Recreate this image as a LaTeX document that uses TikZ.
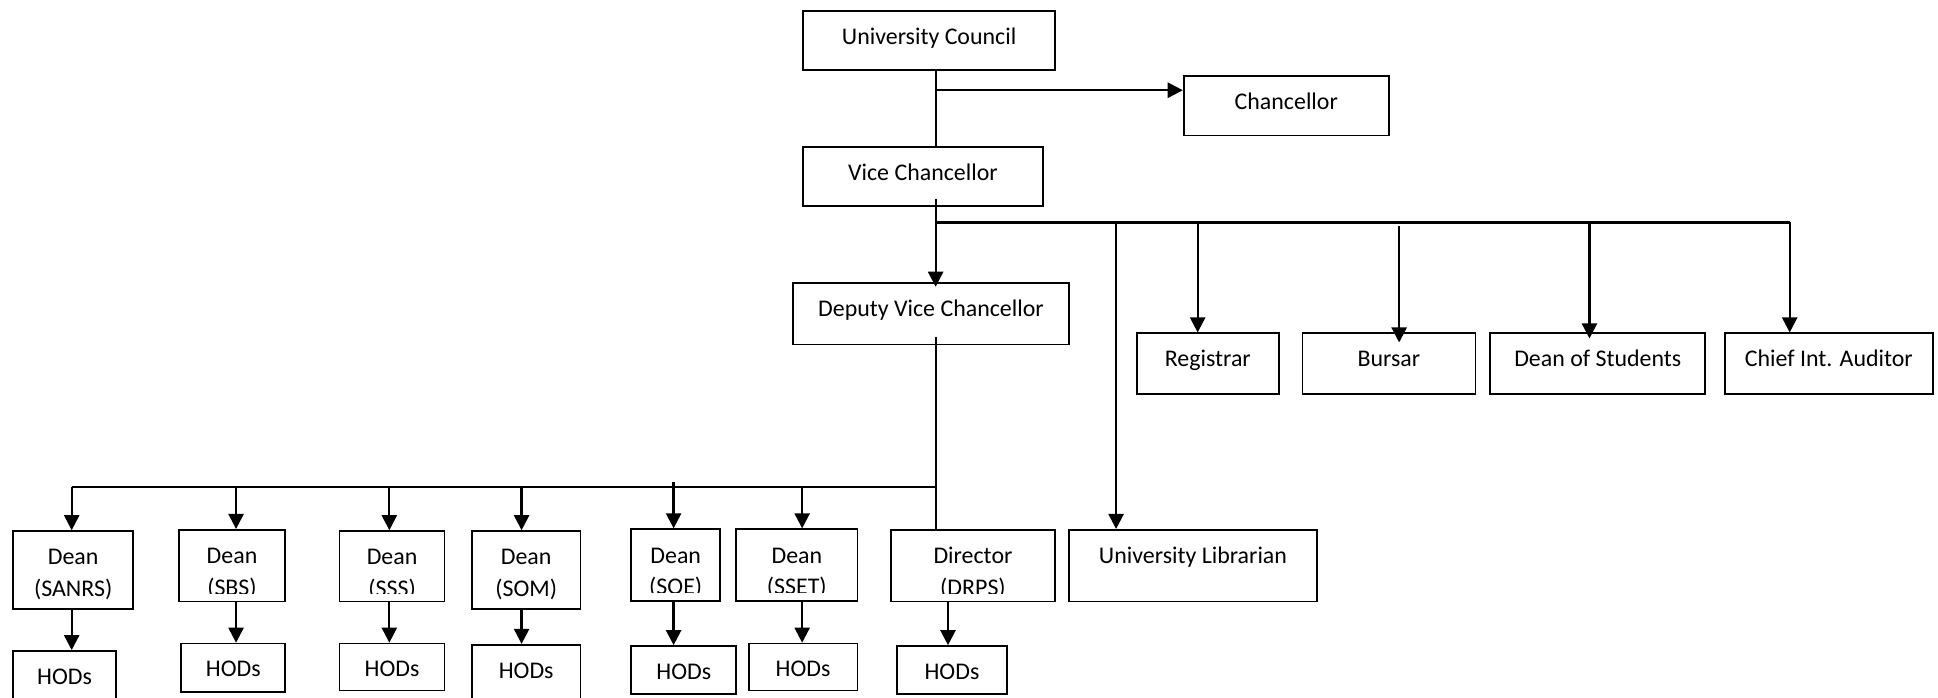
\documentclass[tikz,border=0pt]{standalone}
\usepackage{fontspec}
\setmainfont{Carlito}
\usetikzlibrary{arrows.meta}

\newcommand\upx{0.01236cm}
% frame with its text set from the top, cut off just above the bottom line
% (optional argument: depth of the last baseline below the top)
\newcommand\orgbox[7][27]{%
  \node[box, minimum width=#5*\upx, minimum height=#6*\upx,
    path picture={
      \clip (path picture bounding box.north west) rectangle ([yshift=6.5*\upx]path picture bounding box.south east);
      \node[boxtext] (#2-t) at ([yshift=-#1*\upx]path picture bounding box.north) {#7};}]
    (#2) at (#3,#4) {};}

\tikzset{
  box/.style={draw, line width=0.5pt, fill=white, inner sep=0pt, anchor=north west},
  boxtext/.style={anchor=base, align=center, inner sep=0pt, font=\fontsize{6.8}{9}\selectfont},
  link/.style={line width=0.65pt},
}

\begin{document}
\begin{tikzpicture}[x=\upx, y=-\upx, >={Triangle[length=4.3pt,width=4.3pt]}]

\useasboundingbox (0,0) rectangle (1568,564);

% top of the tree
\orgbox{uc}{649}{8}{204}{48}{University Council}
\orgbox{chan}{957}{61}{166}{48}{Chancellor}
\orgbox{vc}{649}{118}{194}{48}{Vice Chancellor}
\orgbox{dvc}{641}{228}{223}{50}{Deputy Vice Chancellor}

% officers
\orgbox{reg}{919}{269}{115}{49}{Registrar}
\orgbox{bur}{1053}{269}{140}{49}{Bursar}
\orgbox{dos}{1205}{269}{174}{49}{Dean of Students}
\orgbox{cia}{1395}{269}{168}{49}{Chief Int. Auditor}

% schools
\orgbox[53]{sanrs}{10}{429}{97}{63}{Dean\\(SANRS)}
\orgbox[53]{sbs}{144}{428}{86}{58}{Dean\\(SBS)}
\orgbox[53]{sss}{274}{429}{85}{57}{Dean\\(SSS)}
\orgbox[53]{som}{381}{429}{88}{63}{Dean\\(SOM)}
\orgbox[53]{soe}{510}{427.5}{72}{58}{Dean\\(SOE)}
\orgbox[53]{sset}{595}{427.5}{98}{58}{Dean\\(SSET)}
\orgbox[53]{dir}{720}{428}{133}{58}{Director\\(DRPS)}
\orgbox{lib}{864}{428}{201}{58}{University Librarian}

% heads of department
\orgbox{h-sanrs}{10}{526}{83}{50}{HODs}
\orgbox{h-sbs}{146}{520}{84}{39}{HODs}
\orgbox{h-sss}{274}{520}{85}{38}{HODs}
\orgbox{h-som}{381}{521}{88}{50}{HODs}
\orgbox{h-soe}{510}{522}{85}{39}{HODs}
\orgbox{h-sset}{605}{520}{88}{38}{HODs}
\orgbox{h-dir}{725}{522}{89}{39}{HODs}

% council and vice chancellor
\draw[link] (uc.south -| 757,0) -- (vc.north -| 757,0);
\draw[link,->] (757,73) coordinate (c-chan) -- (c-chan -| chan.west);
\draw[link,->,shorten <=-0.08cm,shorten >=-0.05cm] (vc.south -| 757,0) -- (dvc.north -| 757,0);

\draw[link] (757,180) coordinate (vbus) -- (1448,180) coordinate (vbus-end);
\draw[link,->] (903,180) coordinate (v-lib) -- (v-lib |- lib.north);
\draw[link,->] (969,180) coordinate (v-reg) -- (v-reg |- reg.north);
\draw[link,->,shorten >=-0.1cm] (1132,183) coordinate (v-bur) -- (v-bur |- bur.north);
\draw[link,->,shorten >=-0.06cm] (1286,180) coordinate (v-dos) -- (v-dos |- dos.north);
\draw[link,->] (1448,180) coordinate (v-cia) -- (v-cia |- cia.north);

% deputy vice chancellor
\draw[link,shorten <=-0.08cm] (dvc.south -| 757,0) -- (dir.north -| 757,0);
\draw[link] (757,394) coordinate (dbus) -- (58,394) coordinate (dbus-end);
\draw[link,->] (58,394) coordinate (d-sanrs) -- (d-sanrs |- sanrs.north);
\draw[link,->] (191,394) coordinate (d-sbs) -- (d-sbs |- sbs.north);
\draw[link,->] (315,394) coordinate (d-sss) -- (d-sss |- sss.north);
\draw[link,->] (422,394) coordinate (d-som) -- (d-som |- som.north);
\draw[link,->] (545,390) coordinate (d-soe) -- (d-soe |- soe.north);
\draw[link,->] (649,394) coordinate (d-sset) -- (d-sset |- sset.north);

% down to the HODs
\draw[link,->] (sanrs.south -| 58,0) -- (h-sanrs.north -| 58,0);
\draw[link,->] (sbs.south -| 191,0) -- (h-sbs.north -| 191,0);
\draw[link,->] (sss.south -| 315,0) -- (h-sss.north -| 315,0);
\draw[link,->] (som.south -| 422,0) -- (h-som.north -| 422,0);
\draw[link,->] (soe.south -| 545,0) -- (h-soe.north -| 545,0);
\draw[link,->] (sset.south -| 649,0) -- (h-sset.north -| 649,0);
\draw[link,->] (dir.south -| 767,0) -- (h-dir.north -| 767,0);

\end{tikzpicture}
\end{document}
